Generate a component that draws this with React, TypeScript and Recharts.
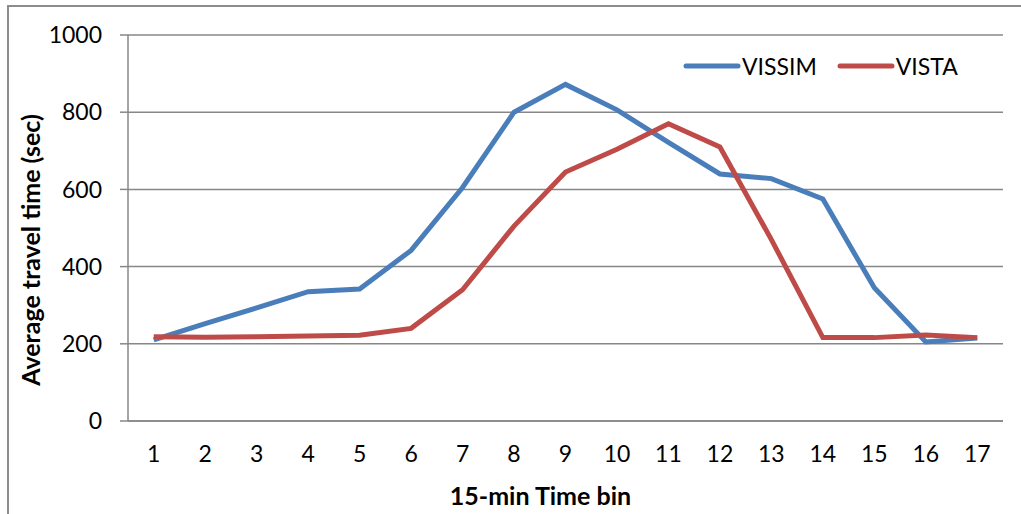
import React from "react";
import {
  LineChart,
  Line,
  XAxis,
  YAxis,
  CartesianGrid,
  Legend,
} from "recharts";

// 15-min time bins
const bins = [1, 2, 3, 4, 5, 6, 7, 8, 9, 10, 11, 12, 13, 14, 15, 16, 17];
// bin boundaries, used only for the tick marks between categories
const binEdges = [
  0.5, 1.5, 2.5, 3.5, 4.5, 5.5, 6.5, 7.5, 8.5, 9.5, 10.5, 11.5, 12.5, 13.5,
  14.5, 15.5, 16.5, 17.5,
];

const vissim = [210, 252, 293, 335, 342, 442, 605, 800, 872, 806, 722, 640, 628, 575, 345, 205, 215];
const vista = [218, 217, 218, 220, 222, 240, 340, 505, 645, 704, 770, 710, 470, 216, 216, 223, 216];

const yTicks = [0, 200, 400, 600, 800, 1000];

const FONT = "Lato, 'Open Sans', sans-serif";
const GRID = "#878787";
const BLUE = "#4a7ebb";
const RED = "#be4b48";

const data = bins.map((b, i) => ({ bin: b, VISSIM: vissim[i], VISTA: vista[i] }));

const LegendContent = (props: any) => {
  const items = props.payload || [];
  return (
    <div style={{ display: "flex", alignItems: "center", fontFamily: FONT, fontSize: 23, color: "#000" }}>
      {items.map((it: any, i: number) => (
        <div key={i} style={{ display: "flex", alignItems: "center", marginRight: 20 }}>
          <svg width={58} height={10}>
            <line x1={3} y1={5} x2={55} y2={5} stroke={it.color} strokeWidth={5} strokeLinecap="round" />
          </svg>
          <span style={{ marginLeft: 1 }}>{it.value}</span>
        </div>
      ))}
    </div>
  );
};

export default function App() {
  return (
    <div style={{ position: "absolute", left: 0, top: 0, width: 1021, height: 514, background: "#fff", overflow: "hidden" }}>
      <div
        style={{
          position: "absolute",
          left: 7,
          top: 5,
          width: 1030,
          height: 530,
          border: "2px solid #8c8c8c",
        }}
      />
      <LineChart
        width={1021}
        height={514}
        data={data}
        margin={{ top: 35, right: 18, left: 8, bottom: 8 }}
        style={{ position: "absolute", left: 0, top: 0 }}
      >
        <CartesianGrid vertical={false} stroke={GRID} strokeWidth={1.5} />
        <XAxis
          xAxisId="b"
          type="number"
          dataKey="bin"
          domain={[0.5, 17.5]}
          ticks={bins}
          interval={0}
          height={84}
          axisLine={false}
          tickLine={false}
          tickSize={0}
          tickMargin={24}
          tick={{ fontFamily: FONT, fontSize: 23, fill: "#000" }}
          label={{
            value: "15-min Time bin",
            position: "insideBottom",
            offset: 1,
            dx: -25,
            style: { fontFamily: FONT, fontSize: 25, fontWeight: 700, fill: "#000" },
          }}
        />
        <XAxis
          xAxisId="a"
          type="number"
          dataKey="bin"
          domain={[0.5, 17.5]}
          ticks={binEdges}
          interval={0}
          height={1}
          tick={false}
          tickSize={8}
          axisLine={{ stroke: GRID, strokeWidth: 1.5 }}
          tickLine={{ stroke: GRID, strokeWidth: 1.5 }}
        />
        <YAxis
          width={120}
          domain={[0, 1000]}
          ticks={yTicks}
          interval={0}
          tickSize={8}
          tickMargin={18}
          axisLine={{ stroke: GRID, strokeWidth: 1.5 }}
          tickLine={{ stroke: GRID, strokeWidth: 1.5 }}
          tick={{ fontFamily: FONT, fontSize: 23, fill: "#000" }}
          label={{
            value: "Average travel time (sec)",
            content: ({ viewBox }: any) => {
              const cx = viewBox.x + 22;
              const cy = viewBox.y + viewBox.height / 2 + 22;
              return (
                <text
                  x={cx}
                  y={cy}
                  transform={`rotate(-90 ${cx} ${cy})`}
                  textAnchor="middle"
                  dominantBaseline="central"
                  style={{ fontFamily: FONT, fontSize: 25, fontWeight: 700, fill: "#000" }}
                >
                  Average travel time (sec)
                </text>
              );
            },
          }}
        />
        <Legend
          verticalAlign="middle"
          align="center"
          layout="horizontal"
          content={<LegendContent />}
          wrapperStyle={{ top: 52, left: 683, width: 330 }}
        />
        <Line
          xAxisId="b"
          type="linear"
          dataKey="VISSIM"
          stroke={BLUE}
          strokeWidth={5}
          dot={false}
          isAnimationActive={false}
        />
        <Line
          xAxisId="b"
          type="linear"
          dataKey="VISTA"
          stroke={RED}
          strokeWidth={5}
          dot={false}
          isAnimationActive={false}
        />
      </LineChart>
    </div>
  );
}
